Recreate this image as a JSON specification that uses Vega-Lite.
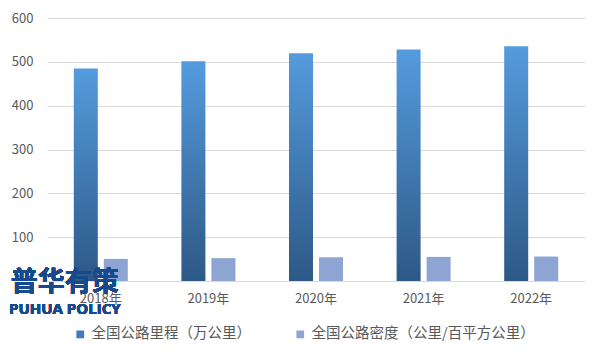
{
  "$schema": "https://vega.github.io/schema/vega-lite/v6.json",
  "width": 538,
  "height": 263,
  "autosize": {"type": "none"},
  "padding": {"left": 47, "top": 18, "right": 15, "bottom": 79},
  "background": "white",
  "config": {"font": "Noto Sans CJK SC", "view": {"stroke": null}},
  "data": {
    "values": [
      {"year": "2018年", "series": "全国公路里程（万公里）", "value": 484.65},
      {"year": "2018年", "series": "全国公路密度（公里/百平方公里）", "value": 50.48},
      {"year": "2019年", "series": "全国公路里程（万公里）", "value": 501.25},
      {"year": "2019年", "series": "全国公路密度（公里/百平方公里）", "value": 52.21},
      {"year": "2020年", "series": "全国公路里程（万公里）", "value": 519.81},
      {"year": "2020年", "series": "全国公路密度（公里/百平方公里）", "value": 54.15},
      {"year": "2021年", "series": "全国公路里程（万公里）", "value": 528.07},
      {"year": "2021年", "series": "全国公路密度（公里/百平方公里）", "value": 55.01},
      {"year": "2022年", "series": "全国公路里程（万公里）", "value": 535.48},
      {"year": "2022年", "series": "全国公路密度（公里/百平方公里）", "value": 55.78}
    ]
  },
  "layer": [
    {
      "mark": {"type": "bar"},
      "encoding": {
        "x": {
          "field": "year", "type": "nominal", "sort": null,
          "scale": {"paddingInner": 0, "paddingOuter": 0},
          "axis": {"title": null, "labelAngle": 0, "labelFontSize": 13, "labelColor": "#595959", "labelPadding": 11, "ticks": false, "domainColor": "#D9D9D9", "grid": false}
        },
        "xOffset": {
          "field": "series", "type": "nominal", "sort": null,
          "scale": {"paddingInner": 0.2, "paddingOuter": 0.893}
        },
        "y": {
          "field": "value", "type": "quantitative",
          "scale": {"domain": [0, 600]},
          "axis": {"title": null, "values": [100, 200, 300, 400, 500, 600], "ticks": false, "domain": false, "gridColor": "#D9D9D9", "labelColor": "#595959", "labelFontSize": 13, "labelPadding": 14}
        },
        "color": {
          "field": "series", "type": "nominal", "sort": null,
          "scale": {"range": ["#3F7BBE", "#8EA5D3"]},
          "legend": {"title": null, "orient": "none", "legendX": 26, "legendY": 309, "direction": "horizontal", "symbolType": "square", "symbolSize": 60, "labelFontSize": 14.5, "labelColor": "#595959", "labelLimit": 0, "labelOffset": 4, "columnPadding": 42},
          "condition": {
            "test": "datum.series === '全国公路里程（万公里）'",
            "value": {"gradient": "linear", "x1": 0, "y1": 0, "x2": 0, "y2": 1, "stops": [{"offset": 0, "color": "#559BDD"}, {"offset": 1, "color": "#2D5886"}]}
          }
        }
      }
    },
    {
      "mark": {"type": "text", "text": "普华有策", "fontSize": 27, "fontWeight": "bold", "color": "#164A8C", "align": "center", "baseline": "middle", "dx": -36, "dy": 2},
      "encoding": {"x": {"datum": "2018年"}, "y": {"datum": 0}}
    },
    {
      "mark": {"type": "text", "text": "PUHUA POLICY", "fontSize": 15, "fontWeight": "bold", "font": "Open Sans", "color": "#164A8C", "align": "center", "baseline": "middle", "dx": -36, "dy": 28},
      "encoding": {"x": {"datum": "2018年"}, "y": {"datum": 0}}
    }
  ]
}
